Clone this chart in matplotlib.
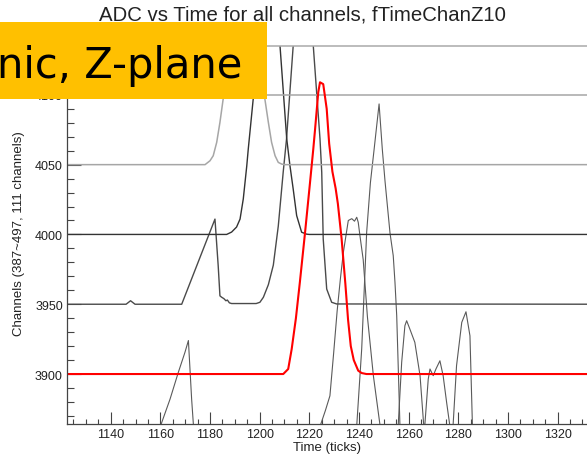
import matplotlib.pyplot as plt
from matplotlib.patches import Rectangle
from matplotlib.ticker import MultipleLocator

plt.rcParams['font.family'] = ['Liberation Sans', 'DejaVu Sans']

title = "ADC vs Time for all channels, fTimeChanZ10"
x_label = "Time (ticks)"
y_label = "Channels (387~497, 111 channels)"
banner = "nic, Z-plane"

# each channel: time (ticks) and ADC value shifted by the channel offset
t_4100 = [1120, 1340]
adc_4100 = [4100, 4100]

t_4050 = [1120, 1178.0, 1180.0, 1181.3, 1182.7, 1184.0, 1185.3, 1187.5, 1193.0, 1199.0,
          1202.1, 1203.5, 1204.8, 1206.2, 1207.5, 1208.9, 1210.0, 1340]
adc_4050 = [4050, 4050, 4052.8, 4056.4, 4066, 4080.3, 4097, 4135, 4175, 4135,
            4097, 4080.3, 4066, 4056.4, 4051.6, 4050.4, 4050, 4050]

t_4000 = [1120, 1186.7, 1188.7, 1190.7, 1192.1, 1193.4, 1194.8, 1195.4, 1197.4, 1198.6, 1203.5,
          1208.2, 1210.9, 1212.2, 1213.5, 1214.9, 1216.9, 1218.9, 1220.0, 1340]
adc_4000 = [4000, 4000, 4001.7, 4005.3, 4011, 4025.4, 4049, 4061, 4097, 4135, 4250,
            4135, 4068.5, 4049.3, 4032.6, 4013.5, 4001.6, 4000.2, 4000, 4000]

t_3950 = [1120, 1146.2, 1148.0, 1149.8, 1168.6, 1182.0, 1183.3, 1184.0, 1184.7, 1185.6, 1186.4,
          1187.0, 1187.8, 1188.7, 1198.6, 1200.1, 1201.5, 1203.5, 1205.5, 1207.5, 1209.5,
          1210.8, 1213.5, 1217.5, 1221.6, 1224.3, 1225.0, 1225.6, 1227.0, 1229.0, 1231.0, 1340]
adc_3950 = [3950, 3950, 3952.5, 3950, 3950, 4011, 3977.5, 3956, 3955, 3954, 3952.5,
            3953, 3951, 3950.5, 3950.5, 3951.4, 3955, 3964, 3978, 4006, 4045,
            4068, 4135, 4235, 4135, 4068.5, 4044.6, 3996.8, 3960.9, 3951.4, 3950.2, 3950]

t_3900 = [1120, 1209.5, 1211.5, 1212.9, 1214.6, 1216.2, 1218.3, 1220.3, 1221.6, 1222.3, 1223.6,
          1224.3, 1225.6, 1227.0, 1228.0, 1229.3, 1230.6, 1231.5, 1233.0, 1234.5, 1235.6,
          1236.7, 1237.9, 1239.7, 1241.1, 1243.0, 1340]
adc_3900 = [3900, 3900, 3903.6, 3917.9, 3940, 3965.9, 4001.7, 4037.5, 4061.2, 4075, 4101.8,
            4109, 4107.7, 4090, 4065, 4045, 4033, 4022, 3997, 3965, 3939,
            3920, 3910, 3902.4, 3900.7, 3900, 3900]

t_3850 = [1120, 1157.5, 1160.3, 1163.9, 1167.2, 1169.9, 1171.3, 1172.6, 1173.3, 1174.0,
          1223.5, 1224.6, 1226.5, 1228.3, 1229.8, 1231.2, 1232.5, 1233.7, 1235.7, 1237.1,
          1238.2, 1239.1, 1239.7, 1240.4, 1241.7, 1243.4, 1245.8, 1248.5, 1249.3, 1340]
adc_3850 = [3850, 3850, 3864, 3882, 3901, 3915.5, 3924, 3882, 3864, 3850,
            3850, 3864, 3874, 3884.4, 3915, 3945, 3968, 3987, 4010, 4011.3,
            4009.5, 4012.3, 4008.7, 3999, 3982, 3941, 3898.8, 3863, 3850, 3850]

t_3800 = [1120, 1236.8, 1239.1, 1241.1, 1243.1, 1244.6, 1246.1, 1248.1, 1249.4, 1250.5,
          1252.5, 1253.8, 1254.5, 1255.2, 1255.8, 1256.5, 1257.5, 1340]
adc_3800 = [3800, 3800, 3863, 3918, 4001.6, 4037, 4061, 4093.5, 4061, 4038,
            4001, 3984.8, 3965.7, 3941.8, 3905.9, 3863, 3800, 3800]

t_3750 = [1120, 1252.3, 1255.8, 1257.2, 1258.5, 1259.2, 1260.5, 1262.5, 1264.6, 1266.3,
          1267.9, 1268.6, 1269.9, 1271.0, 1272.6, 1273.9, 1275.3, 1276.6, 1277.2, 1277.9,
          1279.3, 1281.4, 1283.1, 1284.7, 1285.7, 1286.5, 1340]
adc_3750 = [3750, 3750, 3863, 3908.4, 3934.6, 3938.2, 3932.2, 3922.7, 3898.8, 3858,
            3896.4, 3903.6, 3898.8, 3903.6, 3909.5, 3898.8, 3879.7, 3863, 3855, 3863,
            3906, 3937, 3944.6, 3927.4, 3863, 3750, 3750]

fig = plt.figure(figsize=(5.87, 4.56), dpi=100)
ax = fig.add_axes([67 / 587, 31 / 456, 540 / 587, 378 / 456])

ax.plot(t_3750, adc_3750, color='#5a5a5a', lw=0.8)
ax.plot(t_3800, adc_3800, color='#5a5a5a', lw=0.8)
ax.plot(t_3850, adc_3850, color='#5a5a5a', lw=0.8)
ax.plot(t_3950, adc_3950, color='#4a4a4a', lw=1.0)
ax.plot(t_4000, adc_4000, color='#333333', lw=1.0)
ax.plot(t_4050, adc_4050, color='#a6a6a6', lw=1.1)
ax.plot(t_4100, adc_4100, color='#a6a6a6', lw=1.1)
ax.plot(t_3900, adc_3900, color='#ff0000', lw=1.5)

ax.set_xlim(1122.4, 1339.9)
ax.set_ylim(3864.2, 4135)

ax.xaxis.set_major_locator(MultipleLocator(20))
ax.xaxis.set_minor_locator(MultipleLocator(5))
ax.yaxis.set_major_locator(MultipleLocator(50))
ax.yaxis.set_minor_locator(MultipleLocator(10))
ax.tick_params(axis='both', which='both', direction='in', colors='#444444',
               labelcolor='#222222', labelsize=9, width=0.8)
ax.tick_params(axis='x', which='major', length=8.6, pad=3)
ax.tick_params(axis='x', which='minor', length=3.6)
ax.tick_params(axis='y', which='major', length=10, pad=3)
ax.tick_params(axis='y', which='minor', length=5.3)

for side in ['left', 'bottom']:
    ax.spines[side].set_color('#444444')
    ax.spines[side].set_linewidth(0.9)
ax.spines['top'].set_color('#aaaaaa')
ax.spines['top'].set_linewidth(1.1)
ax.spines['right'].set_visible(False)

fig.text(302.5 / 587, 1 - 20.7 / 456, title, ha='center', va='baseline',
         fontsize=14.7, color='#222222')
fig.text(326.7 / 587, 1 - 448.3 / 456, x_label, ha='center', va='center',
         fontsize=9.5, color='#222222')
fig.text(19 / 587, 1 - 234 / 456, y_label, ha='center', va='center',
         rotation=90, fontsize=9.5, color='#222222')

fig.add_artist(Rectangle((0, 1 - 100 / 456), 267 / 587, 77 / 456,
                         transform=fig.transFigure, facecolor='#ffc000',
                         edgecolor='none', zorder=5))
fig.text(242 / 587, 1 - 78 / 456, banner, ha='right', va='baseline',
         fontsize=30, family='DejaVu Sans', color='black', zorder=6)

fig.savefig('out.png', dpi=100)
